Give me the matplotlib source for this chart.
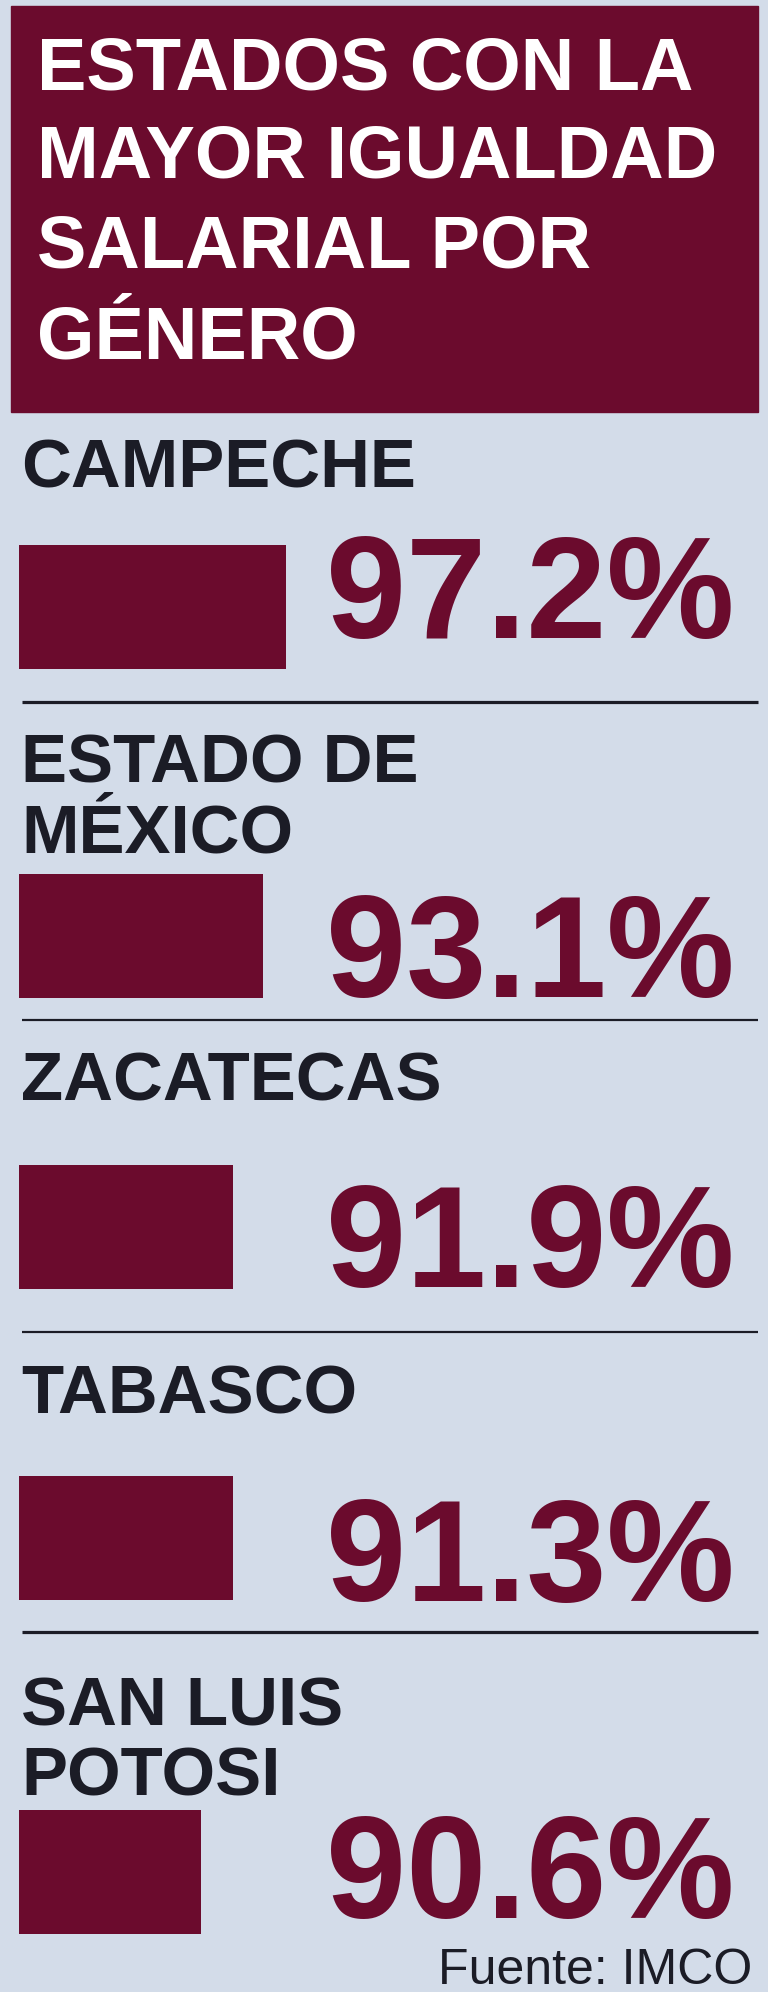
import matplotlib
matplotlib.use("Agg")
import matplotlib.pyplot as plt
from matplotlib.patches import Rectangle

# ---- data ----
title_lines = ["ESTADOS CON LA", "MAYOR IGUALDAD", "SALARIAL POR", "GÉNERO"]
states = ["CAMPECHE", "ESTADO DE\nMÉXICO", "ZACATECAS", "TABASCO", "SAN LUIS\nPOTOSI"]
values = [97.2, 93.1, 91.9, 91.3, 90.6]
bar_lengths = [267, 244, 214, 214, 182]   # drawn bar lengths in the infographic
source = "Fuente: IMCO"

# ---- style ----
BG = "#d3dce9"
MAROON = "#6b0b2d"
DARK = "#1b1c26"
W, H = 768, 1992
PT = 72 / 100  # points per pixel at dpi 100

fig = plt.figure(figsize=(W / 100, H / 100), dpi=100, facecolor=BG)
ax = fig.add_axes([0, 0, 1, 1])
ax.set_xlim(0, W)
ax.set_ylim(H, 0)
ax.axis("off")
ax.set_facecolor(BG)

# title block
ax.add_patch(Rectangle((11, 6), 747, 406, color=MAROON, zorder=1))
title_base = [89, 177, 267, 358]
for line, yb in zip(title_lines, title_base):
    ax.text(37, yb, line, fontsize=74 * PT, family="Liberation Sans",
            weight="bold", color="white", va="baseline", ha="left", zorder=2)

# sections layout
label_base = [487, 782, 1100, 1413, 1725]
label_step = 70
bar_top = [545, 874, 1165, 1476, 1810]
bar_h = 124
pct_base = [638, 997, 1287, 1601, 1918]
seps = [702, 1020, 1332, 1632]
sep_w = [3.2, 2.2, 2.2, 3.2]

centers = [t + bar_h / 2 for t in bar_top]
ax.barh(centers, bar_lengths, left=19, height=bar_h, color=MAROON, zorder=2)

for name, lb in zip(states, label_base):
    for i, part in enumerate(name.split("\n")):
        ax.text(21, lb + i * label_step, part, fontsize=69 * PT,
                family="Liberation Sans", weight="bold", color=DARK,
                va="baseline", ha="left")

for v, pb in zip(values, pct_base):
    ax.text(326, pb, f"{v:.1f}%", fontsize=144 * PT, family="Liberation Sans",
            weight="bold", color=MAROON, va="baseline", ha="left")

for y, lw in zip(seps, sep_w):
    ax.plot([22, 758], [y, y], color=DARK, lw=lw * PT, solid_capstyle="butt")

ax.text(438, 1984, source, fontsize=50 * PT, family="Liberation Sans",
        color=DARK, va="baseline", ha="left")

fig.savefig("out.png", dpi=100, facecolor=BG)
